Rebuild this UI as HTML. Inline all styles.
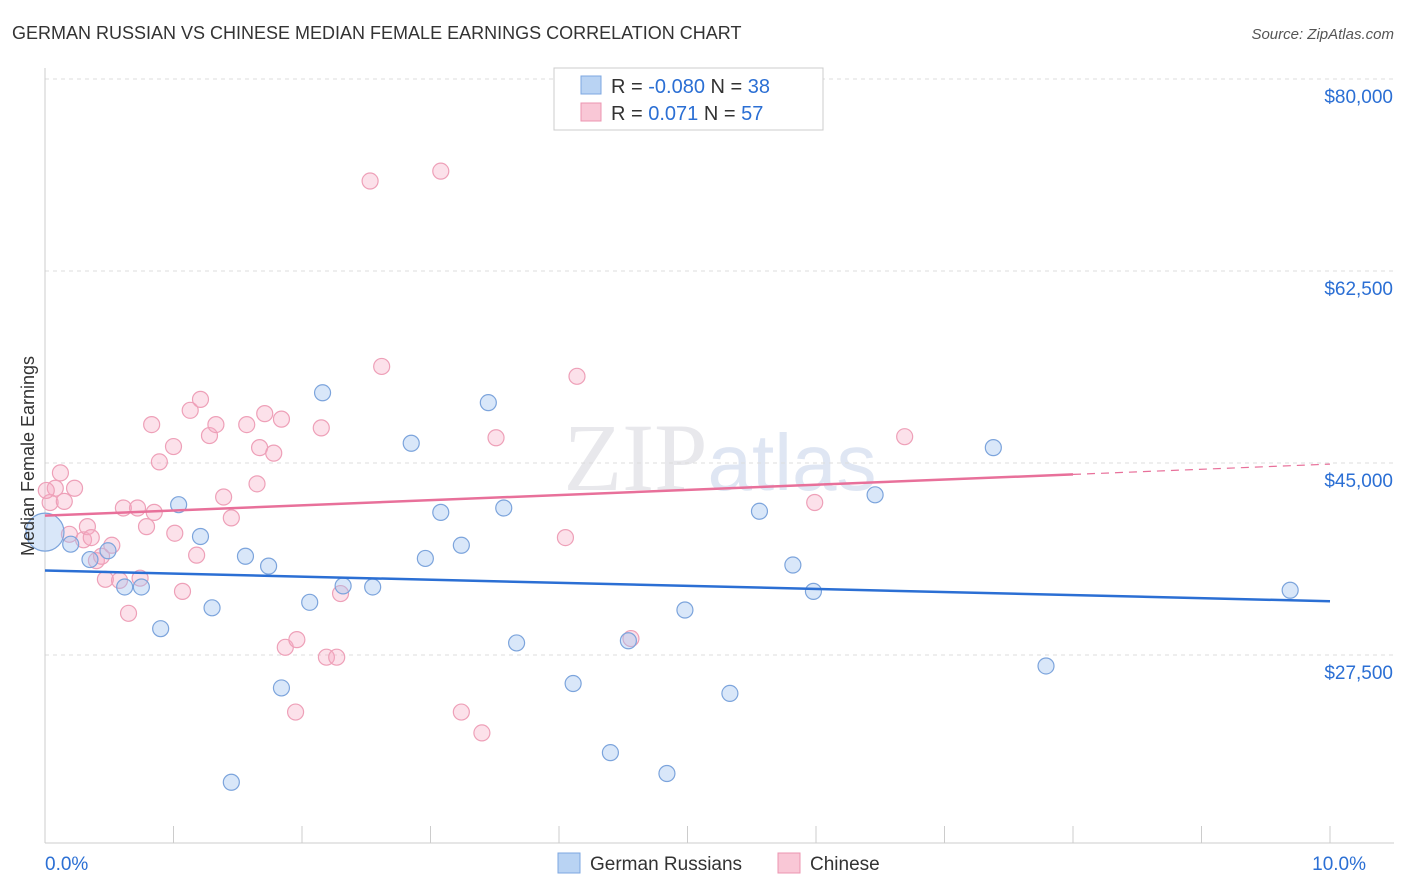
<!DOCTYPE html>
<html><head><meta charset="utf-8"><style>
body{margin:0;background:#fff;font-family:"Liberation Sans",sans-serif;}
svg{display:block}
</style></head><body>
<svg width="1406" height="892">
<text x="12" y="39" font-size="18" fill="#333">GERMAN RUSSIAN VS CHINESE MEDIAN FEMALE EARNINGS CORRELATION CHART</text>
<text x="1394" y="39" font-size="15" fill="#555" text-anchor="end" font-style="italic">Source: ZipAtlas.com</text>
<text x="720" y="490" font-size="96" fill="#e8e8ec" text-anchor="middle" font-family="Liberation Serif,serif">ZIP<tspan fill="#dfe6f3" font-family="Liberation Sans,sans-serif" font-size="80">atlas</tspan></text>
<g id="grid"></g><g id="axes"></g><g id="marks"></g>
<text transform="translate(34,456) rotate(-90)" font-size="18" fill="#333" text-anchor="middle">Median Female Earnings</text>
<g>
<rect x="554" y="68" width="269" height="62" fill="#fff" stroke="#ccc"/>
<rect x="581" y="76" width="20" height="18" fill="#b9d3f3" stroke="#7da7e0"/>
<rect x="581" y="103" width="20" height="18" fill="#f9c7d6" stroke="#ec94b0"/>
<text x="611" y="93" font-size="20" fill="#333">R = <tspan fill="#2b6fd4">-0.080</tspan>   N = <tspan fill="#2b6fd4">38</tspan></text>
<text x="611" y="120" font-size="20" fill="#333">R =    <tspan fill="#2b6fd4">0.071</tspan>   N = <tspan fill="#2b6fd4">57</tspan></text>
</g>
<g>
<rect x="558" y="853" width="22" height="20" fill="#b9d3f3" stroke="#7da7e0"/>
<text x="590" y="870" font-size="19" fill="#333">German Russians</text>
<rect x="778" y="853" width="22" height="20" fill="#f9c7d6" stroke="#ec94b0"/>
<text x="810" y="870" font-size="19" fill="#333">Chinese</text>
</g>
</svg>
<script>
const yTicks=[80000,62500,45000,27500];
const yTickLabels=["$80,000","$62,500","$45,000","$27,500"];
const xTickLabels=["0.0%","10.0%"];
const blueX=[0.00,0.20,0.35,0.49,0.62,0.75,0.90,1.04,1.21,1.30,1.45,1.56,1.74,1.84,2.06,2.16,2.32,2.55,2.85,2.96,3.08,3.24,3.45,3.57,3.67,4.11,4.40,4.54,4.84,4.98,5.33,5.56,5.82,5.98,6.46,7.38,7.79,9.69];
const blueY=[38700,37600,36200,37000,33700,33700,29900,41200,38300,31800,15900,36500,35600,24500,32300,51400,33800,33700,46800,36300,40500,37500,50500,40900,28600,24900,18600,28800,16700,31600,24000,40600,35700,33300,42100,46400,26500,33400];
const pinkX=[0.04,0.08,0.12,0.15,0.23,0.19,0.30,0.33,0.36,0.40,0.44,0.47,0.52,0.58,0.61,0.65,0.72,0.74,0.79,0.83,0.85,0.89,1.00,1.01,1.07,1.13,1.18,1.21,1.28,1.33,1.39,1.45,1.57,1.65,1.67,1.71,1.78,1.84,1.87,1.95,1.96,2.15,2.19,2.27,2.30,2.53,2.62,3.08,3.24,3.40,3.51,4.05,4.14,4.56,5.99,6.69,0.01];
const pinkY=[41400,42700,44100,41500,42700,38500,38000,39200,38200,36100,36500,34400,37500,34300,40900,31300,40900,34500,39200,48500,40500,45100,46500,38600,33300,49800,36600,50800,47500,48500,41900,40000,48500,43100,46400,49500,45900,49000,28200,22300,28900,48200,27300,27300,33100,70700,53800,71600,22300,20400,47300,38200,52900,29000,41400,47400,42500];
const blueTrend=[35200,32400];
const pinkTrend=[40200,44900];
const X=v=>45+v*128.5;
const Y=v=>79+(80000-v)*192/17500;
const NS="http://www.w3.org/2000/svg";
function mk(t,a,p){const e=document.createElementNS(NS,t);for(const k in a)e.setAttribute(k,a[k]);document.getElementById(p).appendChild(e);return e;}
yTicks.forEach((v,i)=>{
 const l=mk('line',{x1:45,x2:1394,y1:Y(v),y2:Y(v),stroke:'#ddd','stroke-dasharray':'4,4'},'grid');
 
 
 const t=mk('text',{x:1393,y:Y(v)+24,'font-size':19,fill:'#2b6fd4','text-anchor':'end'},'axes');
 t.textContent=yTickLabels[i];
 
 
});
const ya=mk('line',{x1:45,x2:45,y1:68,y2:843,stroke:'#ccc'},'axes');


const xa=mk('line',{x1:45,x2:1394,y1:843,y2:843,stroke:'#ccc'},'axes');


for(let i=0;i<=10;i++){
 const tk=mk('line',{x1:X(i),x2:X(i),y1:826,y2:843,stroke:'#ccc'},'axes');
 
 
}
[[0,'start',X(0)],[1,'end',X(10)+36]].forEach(([i,a,x])=>{
 const t=mk('text',{x:x,y:870,'font-size':19,fill:'#2b6fd4','text-anchor':a},'axes');
 t.textContent=xTickLabels[i];
 
 
});
pinkX.forEach((x,i)=>{
 const c=mk('circle',{cx:X(x),cy:Y(pinkY[i]),r:8,fill:'rgba(246,170,195,0.35)',stroke:'#eea0b8','stroke-width':1.2},'marks');
 
 
});
blueX.forEach((x,i)=>{
 const c=mk('circle',{cx:X(x),cy:Y(blueY[i]),r:i===0?19:8,fill:'rgba(160,195,240,0.4)',stroke:'#7ca4dc','stroke-width':1.2},'marks');
 
 
});
const bl=mk('line',{x1:X(0),y1:Y(blueTrend[0]),x2:X(10),y2:Y(blueTrend[1]),stroke:'#2b6fd4','stroke-width':2.5},'marks');


const pm=pinkTrend[0]+(pinkTrend[1]-pinkTrend[0])*0.8;
const pl=mk('line',{x1:X(0),y1:Y(pinkTrend[0]),x2:X(8),y2:Y(pm),stroke:'#e8709a','stroke-width':2.5},'marks');


const pd=mk('line',{x1:X(8),y1:Y(pm),x2:X(10),y2:Y(pinkTrend[1]),stroke:'#e8709a','stroke-width':1.2,'stroke-dasharray':'8,6'},'marks');


</script>
</body></html>
